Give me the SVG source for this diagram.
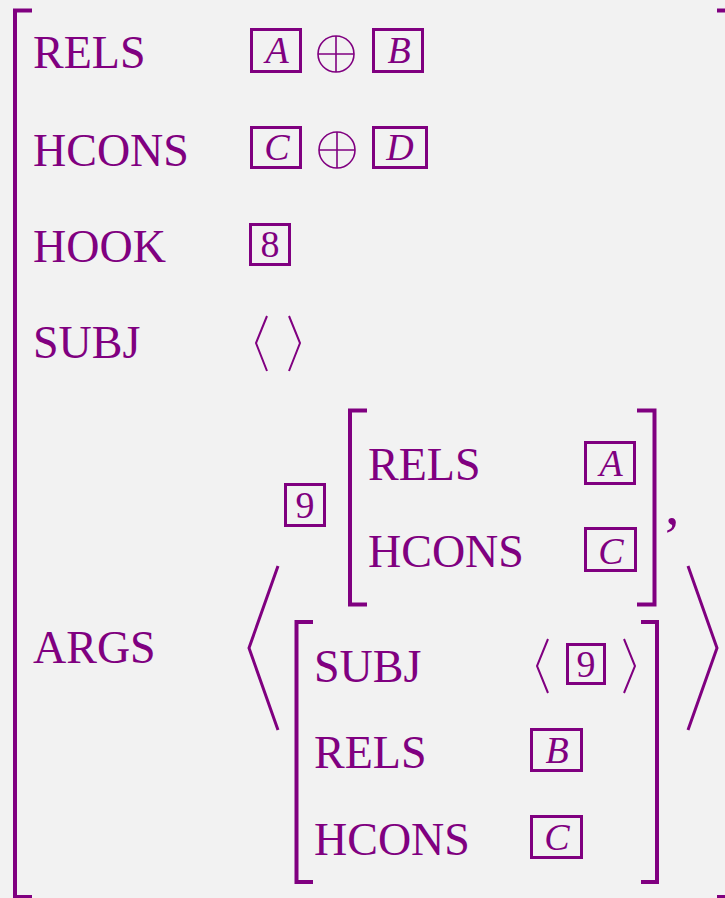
<svg xmlns="http://www.w3.org/2000/svg" width="725" height="898" viewBox="0 0 725 898">
<style>
.lbl{font-family:"Liberation Serif","Times New Roman",serif;font-size:46px;fill:#800080}
.var{font-family:"Liberation Serif","Times New Roman",serif;font-size:38px;font-style:italic;fill:#800080;text-anchor:middle}
.num{font-family:"Liberation Serif","Times New Roman",serif;font-size:38px;fill:#800080;text-anchor:middle}
.box{fill:none;stroke:#800080;stroke-width:3}
.brk{fill:none;stroke:#800080;stroke-width:4}
.ang{fill:none;stroke:#800080;stroke-width:2}
.bigang{fill:none;stroke:#800080;stroke-width:3}
.op{fill:none;stroke:#800080;stroke-width:1.6}
</style>
<rect x="0" y="0" width="725" height="898" fill="#f2f2f2"/>
<g id="outer">
<path class="brk" d="M32,10.5 H15 V897 H32"/>
<path class="brk" d="M717,10.5 H727 V897 H717"/>
<text class="lbl" x="33" y="68">RELS</text>
<text class="lbl" x="33" y="166">HCONS</text>
<text class="lbl" x="33" y="262">HOOK</text>
<text class="lbl" x="33" y="358">SUBJ</text>
<text class="lbl" x="33" y="663">ARGS</text>
<rect class="box" x="251.5" y="29.5" width="49" height="42"/>
<text class="var" x="277" y="63">A</text>
<circle class="op" cx="336" cy="54" r="18"/>
<path class="op" d="M318,54 H354 M336,36 V72"/>
<rect class="box" x="373.5" y="29.5" width="49" height="42"/>
<text class="var" x="399" y="63">B</text>
<rect class="box" x="251.5" y="127.5" width="49" height="40"/>
<text class="var" x="277" y="160">C</text>
<circle class="op" cx="337" cy="150" r="18"/>
<path class="op" d="M319,150 H355 M337,132 V168"/>
<rect class="box" x="373.5" y="127.5" width="53" height="40"/>
<text class="var" x="400" y="160">D</text>
<rect class="box" x="250.5" y="224.5" width="39" height="40"/>
<text class="num" x="270" y="257">8</text>
<path class="ang" d="M267,316 L256,343 L267,371 M289,316 L300,343 L289,371"/>
<path class="bigang" d="M278,566 L249,648 L278,730 M688,566 L717,648 L688,730"/>
</g>
<g id="arg1">
<rect class="box" x="285.5" y="484.5" width="39" height="41"/>
<text class="num" x="305" y="518">9</text>
<path class="brk" d="M367,410.5 H350 V604.5 H367"/>
<path class="brk" d="M637,410.5 H654.5 V604.5 H637"/>
<text class="lbl" x="368" y="480">RELS</text>
<text class="lbl" x="368" y="567">HCONS</text>
<rect class="box" x="585.5" y="442.5" width="49" height="41"/>
<text class="var" x="611" y="476">A</text>
<rect class="box" x="585.5" y="528.5" width="50" height="42"/>
<text class="var" x="611" y="564">C</text>
<text class="lbl" x="665" y="524" style="font-size:58px">,</text>
</g>
<g id="arg2">
<path class="brk" d="M313,622 H296.5 V882 H313"/>
<path class="brk" d="M641,622 H657 V882 H641"/>
<text class="lbl" x="314" y="682">SUBJ</text>
<text class="lbl" x="314" y="768">RELS</text>
<text class="lbl" x="314" y="855">HCONS</text>
<path class="ang" d="M548,639 L537,666 L548,693 M624,639 L635,666 L624,693"/>
<rect class="box" x="567.5" y="644.5" width="37" height="39"/>
<text class="num" x="586" y="677">9</text>
<rect class="box" x="531.5" y="729.5" width="50" height="41"/>
<text class="var" x="557" y="763">B</text>
<rect class="box" x="531.5" y="816.5" width="50" height="41"/>
<text class="var" x="557" y="850">C</text>
</g>
</svg>
